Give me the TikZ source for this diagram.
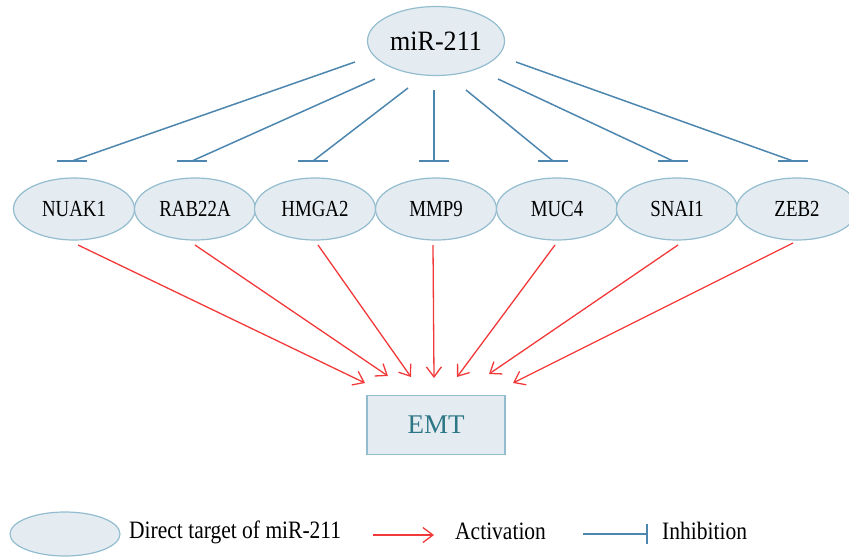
\documentclass[tikz,border=0pt]{standalone}
\usepackage{fontspec}
\usepackage{graphicx}
\setmainfont{Liberation Serif}
\usetikzlibrary{arrows.meta,shapes.geometric}

\definecolor{tgtfill}{HTML}{E4ECF2}
\definecolor{tgtline}{HTML}{93BCCF}
\definecolor{inhblue}{HTML}{4D86AF}
\definecolor{actred}{HTML}{F2393A}
\definecolor{emttext}{HTML}{2D7685}

\newcommand{\tgtlabel}[1]{\fontsize{23}{23}\selectfont\scalebox{0.82}[1]{#1}}
\newcommand{\legtext}[1]{\fontsize{25}{25}\selectfont\scalebox{0.86}[1]{#1}}

\tikzset{
  bubble/.style={ellipse, draw=tgtline, fill=tgtfill, line width=1.2pt, inner sep=0pt},
  target/.style={bubble, minimum width=121pt, minimum height=62pt},
  hub/.style={bubble, minimum width=137pt, minimum height=69pt},
  emtbox/.style={rectangle, draw=tgtline, fill=tgtfill, line width=1.2pt,
                 minimum width=138pt, minimum height=59pt, text=emttext},
  inh/.style={draw=inhblue, line width=1.5pt},
  act/.style={draw=actred, line width=1.3pt,
               -{Straight Barb[length=10pt,width=15pt,line width=1.3pt]}},
  legtxt/.style={anchor=base west, inner sep=0pt},
}

\begin{document}
\begin{tikzpicture}[x=1pt,y=-1pt]
\useasboundingbox (0,0) rectangle (849,557);

% regulator
\node[hub] (mir) at (436,41) {\fontsize{28}{28}\selectfont\scalebox{0.93}[1]{miR-211}};

% direct targets
\node[target] (t1) at (74,209)  {\tgtlabel{NUAK1}};
\node[target] (t2) at (195,209) {\tgtlabel{RAB22A}};
\node[target] (t3) at (315,209) {\tgtlabel{HMGA2}};
\node[target] (t4) at (436,209) {\tgtlabel{MMP9}};
\node[target] (t5) at (557,209) {\tgtlabel{MUC4}};
\node[target] (t6) at (677,209) {\tgtlabel{SNAI1}};
\node[target] (t7) at (797,209) {\tgtlabel{ZEB2}};

% outcome
\node[emtbox] (emt) at (436,425) {\fontsize{27}{27}\selectfont EMT};

% inhibition line ends below the regulator
\coordinate (m1) at (355,62);
\coordinate (m2) at (375,79);
\coordinate (m3) at (408,88);
\coordinate (m4) at (434,90);
\coordinate (m5) at (466,90);
\coordinate (m6) at (498,79);
\coordinate (m7) at (516,62);

% bar positions above the targets
\coordinate (b1) at (72,161);
\coordinate (b2) at (192,161);
\coordinate (b3) at (313,161);
\coordinate (b4) at (434,161);
\coordinate (b5) at (553,161);
\coordinate (b6) at (673,161);
\coordinate (b7) at (793,161);

\foreach \i in {1,...,7}{
  \draw[inh] (m\i) -- (b\i);
  \draw[inh] ([xshift=-15pt]b\i) -- ([xshift=15pt]b\i);
}

% activation arrows from targets towards EMT
\coordinate (r1) at (78,245);
\coordinate (r2) at (195,245);
\coordinate (r3) at (318,245);
\coordinate (r4) at (433,245);
\coordinate (r5) at (555,245);
\coordinate (r6) at (678,245);
\coordinate (r7) at (793,243);

\coordinate (a1) at (365,383);
\coordinate (a2) at (388,376);
\coordinate (a3) at (411,377);
\coordinate (a4) at (434,378);
\coordinate (a5) at (457,377);
\coordinate (a6) at (489,374);
\coordinate (a7) at (513,383);

\foreach \i in {1,...,7}{
  \draw[act] (r\i) -- (a\i);
}

% legend
\node[bubble, minimum width=110pt, minimum height=44pt] (leg) at (65,534) {};
\node[legtxt] (legdt) at (129,538) {\legtext{Direct target of miR-211}};

\coordinate (la0) at (373,535);
\coordinate (la1) at (434,535);
\draw[act] (la0) -- (la1);
\node[legtxt] (legact) at (455,539) {\legtext{Activation}};

\coordinate (li0) at (583,534);
\coordinate (li1) at (647,534);
\draw[inh] (li0) -- (li1);
\draw[inh] ([yshift=-10pt]li1) -- ([yshift=10pt]li1);
\node[legtxt] (leginh) at (662,539) {\legtext{Inhibition}};
\end{tikzpicture}
\end{document}
